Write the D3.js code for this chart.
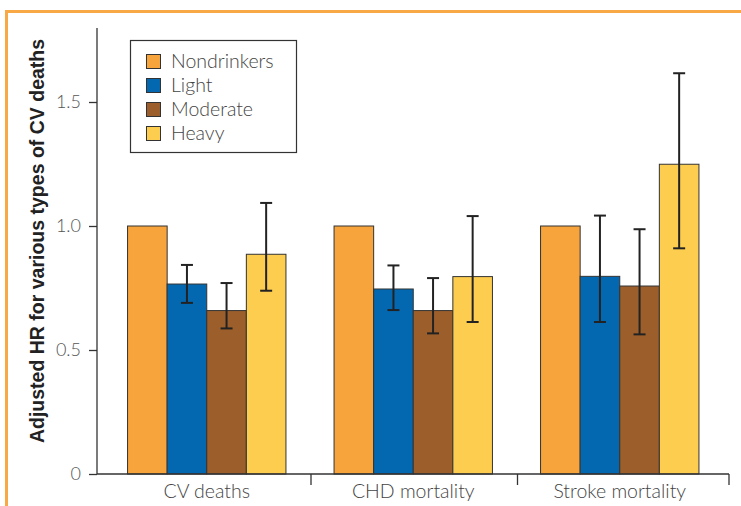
<!DOCTYPE html>
<html><head><meta charset="utf-8">
<script src="https://cdn.jsdelivr.net/npm/d3@7"></script>
<style>body{margin:0;background:#fff}svg{display:block}</style>
</head><body>
<svg id="c" width="741" height="506"></svg>
<script>
const categories = ["CV deaths", "CHD mortality", "Stroke mortality"];
const series = ["Nondrinkers", "Light", "Moderate", "Heavy"];
const colors = ["#F7A43C", "#0468B1", "#9C5F2C", "#FDCD50"];
const nondrinkers = [1.0, 1.0, 1.0];
const light = [0.766, 0.746, 0.797];
const moderate = [0.659, 0.659, 0.758];
const heavy = [0.886, 0.796, 1.249];
const lightLo = [0.69, 0.661, 0.613], lightHi = [0.843, 0.841, 1.042];
const moderateLo = [0.587, 0.567, 0.563], moderateHi = [0.770, 0.790, 0.987];
const heavyLo = [0.739, 0.613, 0.910], heavyHi = [1.093, 1.040, 1.616];
const yTicks = [0, 0.5, 1.0, 1.5];
const yTickLabels = ["0", "0.5", "1.0", "1.5"];

const values = [nondrinkers, light, moderate, heavy];
const lows = [null, lightLo, moderateLo, heavyLo];
const highs = [null, lightHi, moderateHi, heavyHi];

const svg = d3.select("#c");
const font = "Lato, 'Open Sans', sans-serif";

// orange frame
svg.append("path").attr("d", "M6.5,506 V11.5 H741").attr("fill", "none")
  .attr("stroke", "#F8A845").attr("stroke-width", 3);

const y = d3.scaleLinear().domain([0, 1.5]).range([474, 102]);
const x0 = d3.scaleBand().domain(categories).range([103.5, 723]);
const groupW = 158.4;
const x1 = d3.scaleBand().domain(series)
  .range([(x0.bandwidth() - groupW) / 2, (x0.bandwidth() + groupW) / 2]);

// y axis
const yAxis = svg.append("g").attr("transform", "translate(97,0)")
  .call(d3.axisLeft(y).tickValues(yTicks).tickFormat((d, i) => yTickLabels[i]).tickSize(8).tickPadding(8));
yAxis.select(".domain").attr("d", "M0,28 V474").attr("stroke", "#333").attr("stroke-width", 1.3);
yAxis.selectAll(".tick line").attr("stroke", "#333").attr("stroke-width", 1.3);
yAxis.selectAll(".tick text").attr("font-family", font).attr("font-weight", 300)
  .attr("font-size", 18).attr("fill", "#555");

// bars
const g = svg.append("g");
categories.forEach((c, ci) => {
  series.forEach((s, si) => {
    g.append("rect")
      .attr("x", x0(c) + x1(s)).attr("width", x1.bandwidth())
      .attr("y", y(values[si][ci])).attr("height", y(0) - y(values[si][ci]))
      .attr("fill", colors[si]).attr("stroke", "#333").attr("stroke-width", 1);
  });
});
// error bars
categories.forEach((c, ci) => {
  series.forEach((s, si) => {
    if (!lows[si]) return;
    const cx = x0(c) + x1(s) + x1.bandwidth() / 2;
    const lo = y(lows[si][ci]), hi = y(highs[si][ci]);
    const eb = g.append("g").attr("stroke", "#222").attr("stroke-width", 2);
    eb.append("line").attr("x1", cx).attr("x2", cx).attr("y1", lo).attr("y2", hi);
    eb.append("line").attr("x1", cx - 6).attr("x2", cx + 6).attr("y1", lo).attr("y2", lo);
    eb.append("line").attr("x1", cx - 6).attr("x2", cx + 6).attr("y1", hi).attr("y2", hi);
  });
});

// x axis
const xAxis = svg.append("g").attr("transform", "translate(0,474)");
xAxis.append("line").attr("x1", 97).attr("x2", 729).attr("stroke", "#333").attr("stroke-width", 1.3);
categories.forEach((c, ci) => {
  const sx = ci === categories.length - 1 ? 729 : x0(c) + x0.bandwidth() + 1;
  xAxis.append("line").attr("x1", sx).attr("x2", sx).attr("y1", 0).attr("y2", 11)
    .attr("stroke", "#333").attr("stroke-width", 1.3);
  xAxis.append("text").attr("x", x0(c) + x0.bandwidth() / 2).attr("y", 24)
    .attr("text-anchor", "middle").attr("font-family", font).attr("font-weight", 300)
    .attr("font-size", 19.5).attr("fill", "#444").text(c);
});

// y label
svg.append("text").attr("transform", "translate(44,241) rotate(-90)")
  .attr("text-anchor", "middle").attr("font-family", "'Liberation Sans', Arial, sans-serif").attr("font-weight", 700)
  .attr("font-size", 19.5).attr("fill", "#222")
  .text("Adjusted HR for various types of CV deaths");

// legend
const lg = svg.append("g");
lg.append("rect").attr("x", 130.5).attr("y", 40.5).attr("width", 166).attr("height", 112)
  .attr("fill", "#fff").attr("stroke", "#333").attr("stroke-width", 1.2);
series.forEach((s, si) => {
  const cy = 61.5 + si * 24;
  lg.append("rect").attr("x", 146.5).attr("y", cy - 7).attr("width", 14).attr("height", 14)
    .attr("fill", colors[si]).attr("stroke", "#333").attr("stroke-width", 1);
  lg.append("text").attr("x", 171).attr("y", cy).attr("dy", "0.35em")
    .attr("font-family", font).attr("font-weight", 300).attr("font-size", 19.5)
    .attr("fill", "#444").text(s);
});
</script>
</body></html>
